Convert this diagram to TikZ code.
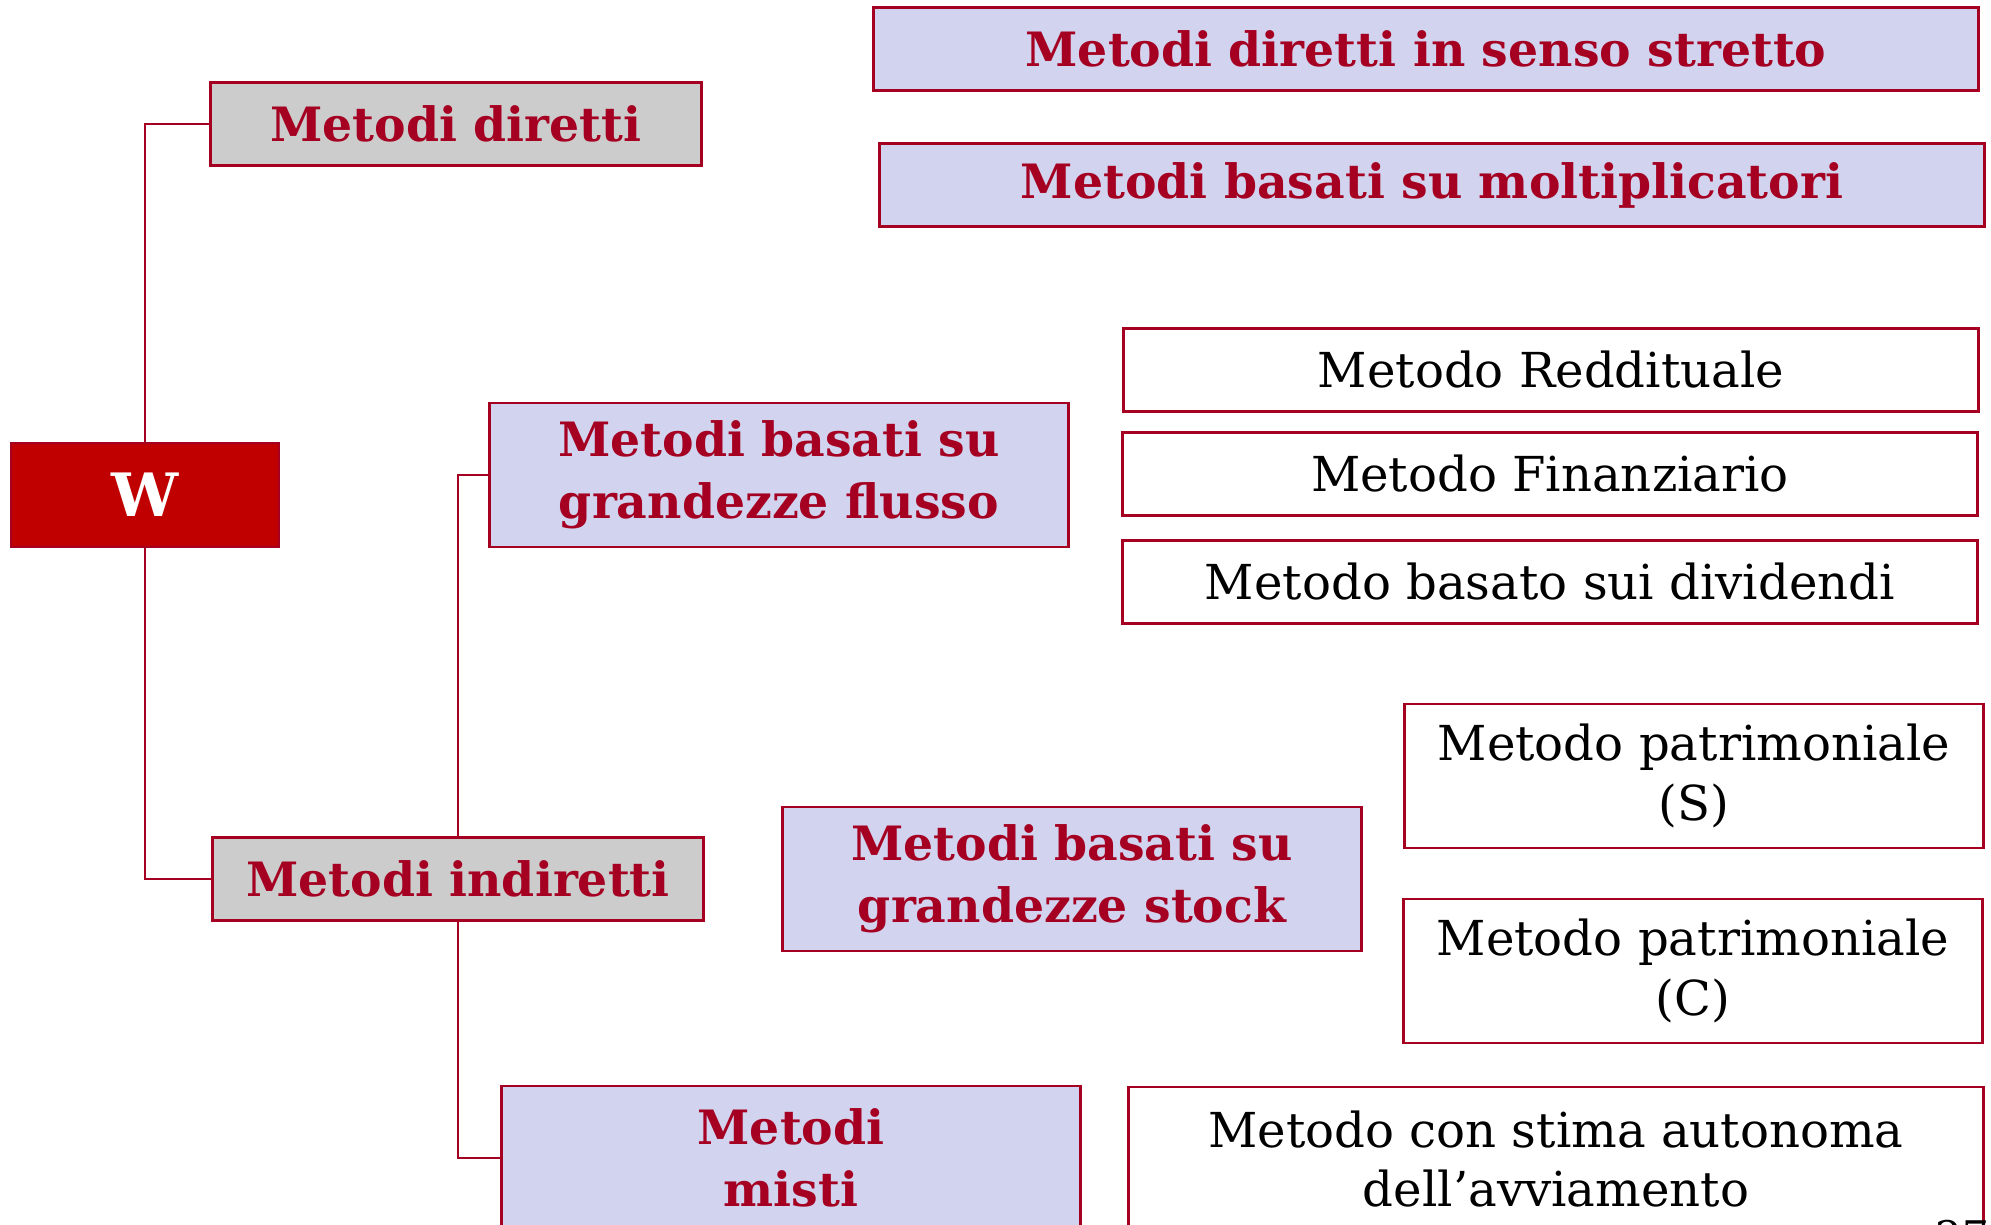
\documentclass[tikz,border=0pt]{standalone}
\usepackage{fontspec}
\setmainfont{DejaVu Serif}

\definecolor{bordo}{HTML}{A50021}
\definecolor{lilla}{HTML}{D1D3EF}
\definecolor{rosso}{HTML}{C00000}
\definecolor{grigio}{HTML}{CCCCCC}

\tikzset{
    box/.style={draw=bordo, line width=0.8pt, inner sep=0pt, align=center},
    head/.style={box, fill=grigio, text=bordo, font=\bfseries\fontsize{13.45}{17.5}\selectfont,
        minimum width=4.91cm, minimum height=0.83cm},
    group/.style={box, fill=lilla, text=bordo, font=\bfseries\fontsize{13.45}{17.5}\selectfont,
        minimum width=5.78cm, minimum height=1.44cm},
    wide/.style={group, minimum width=11.05cm, minimum height=0.83cm},
    leaf/.style={box, fill=white, font=\fontsize{13.7}{17}\selectfont,
        minimum width=8.55cm, minimum height=0.83cm},
    link/.style={draw=bordo, line width=0.8pt}
}

\begin{document}
\begin{tikzpicture}[x=0.01cm, y=-0.01cm]
            \useasboundingbox (0,0) rectangle (1991,1224);
            \node [box, fill=rosso, text=white, font=\bfseries\fontsize{17}{20}\selectfont,
                minimum width=2.68cm, minimum height=1.04cm] (W) at (145,495) {W};
            \node [head] (Dir) at (456,124) {Metodi diretti};
            \node [head] (Ind) at (458,879) {Metodi indiretti};
            \node [wide] (Senso) at (1426,49) {Metodi diretti in senso stretto};
            \node [wide] (Molt) at (1432,185) {Metodi basati su moltiplicatori};
            \node [group] (Flu) at (779,475) {Metodi basati su\\grandezze flusso};
            \node [group] (Sto) at (1072,879) {Metodi basati su\\grandezze stock};
            \node [group] (Mis) at (791,1158) {Metodi\\misti};
            \node [leaf] (Red) at (1551,370) {Metodo Reddituale};
            \node [leaf] (Fin) at (1550,474) {Metodo Finanziario};
            \node [leaf] (Div) at (1550,582) {Metodo basato sui dividendi};
            \node [leaf, minimum width=5.78cm, minimum height=1.44cm] (PatS) at (1694,776) {Metodo patrimoniale\\(S)};
            \node [leaf, minimum width=5.78cm, minimum height=1.44cm] (PatC) at (1693,971) {Metodo patrimoniale\\(C)};
            \node [leaf, minimum height=1.44cm] (Stima) at (1556,1159) {Metodo con stima autonoma\\dell’avviamento};
            \node [font=\fontsize{12}{14}\selectfont] (Pag) at (1962,1236) {27};
            % rami
            \draw [link] (Dir.west) -| (W.north);
            \draw [link] (W.south) |- (Ind.west);
            \draw [link] (Flu.west) -| (Ind.north);
            \draw [link] (Ind.south) |- (Mis.west);
        \end{tikzpicture}
\end{document}
